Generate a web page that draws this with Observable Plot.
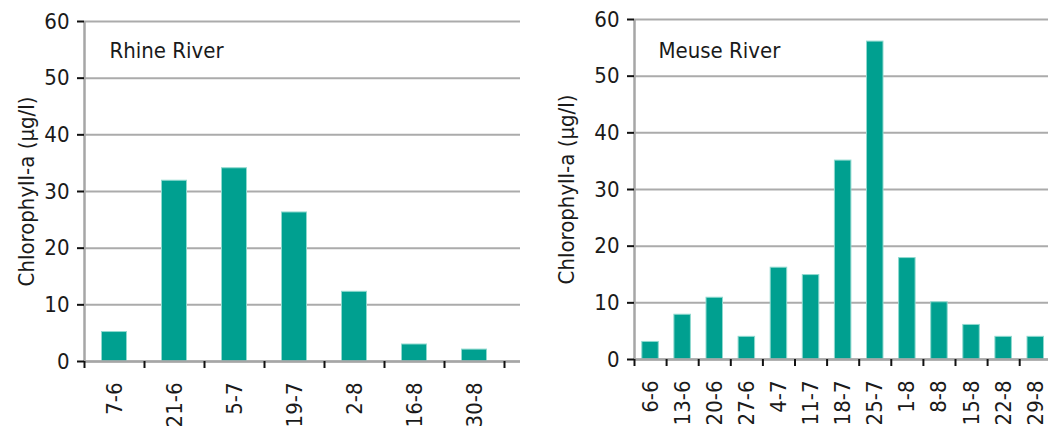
<!DOCTYPE html>
<html>
<head>
<meta charset="utf-8">
<script src="https://cdn.jsdelivr.net/npm/d3@7"></script>
<script src="https://cdn.jsdelivr.net/npm/@observablehq/plot@0.6"></script>
<style>
  html, body { margin: 0; padding: 0; background: #fff; overflow: hidden; }
  #wrap { display: flex; width: 1048px; height: 427px; }
  #wrap svg { display: block; }
</style>
</head>
<body>
<div id="wrap"></div>
<script>
// ---- data ----
const rhineLabel = "Rhine River";
const rhineDates = ["7-6", "21-6", "5-7", "19-7", "2-8", "16-8", "30-8"];
const rhineValues = [5.2, 31.9, 34.1, 26.3, 12.3, 3.0, 2.1];

const meuseLabel = "Meuse River";
const meuseDates = ["6-6", "13-6", "20-6", "27-6", "4-7", "11-7", "18-7", "25-7", "1-8", "8-8", "15-8", "22-8", "29-8"];
const meuseValues = [3.1, 7.9, 10.9, 4.0, 16.2, 14.9, 35.1, 56.1, 17.9, 10.1, 6.1, 4.0, 4.0];

const yTicks = [0, 10, 20, 30, 40, 50, 60];
const yTitle = "Chlorophyll-a (µg/l)";

// ---- chart ----
const FONT = '"Liberation Sans Narrow", "DejaVu Sans Condensed", "Arial Narrow", sans-serif';

function chart({label, dates, values, width, marginLeft, marginTop, marginBottom, bandWidth, inset, labelOffset, labelDx, labelDy}) {
  const n = dates.length;
  const data = dates.map((d, i) => ({date: d, i, value: values[i]}));
  return Plot.plot({
    width,
    height: 427,
    marginLeft,
    marginRight: 0,
    marginTop,
    marginBottom,
    style: {fontFamily: FONT, fontSize: "22px", color: "#1a1a1a", background: "white", overflow: "hidden"},
    x: {type: "linear", domain: [0, n], range: [marginLeft, marginLeft + n * bandWidth], axis: null},
    y: {domain: [0, 60], axis: null},
    marks: [
      Plot.gridY(yTicks, {stroke: "#ababab", strokeOpacity: 1, strokeWidth: 2}),
      Plot.rectY(data, {x1: "i", x2: d => d.i + 1, y1: 0, y2: "value", fill: "#00a090", stroke: "#8fd9cf", strokeWidth: 1, insetLeft: inset, insetRight: inset}),
      Plot.ruleX([0], {stroke: "#a6a6a6", strokeWidth: 2.5}),
      Plot.ruleY([0], {stroke: "#a6a6a6", strokeWidth: 2.5}),
      Plot.axisY({ticks: yTicks, tickSize: 7, tickPadding: 8, stroke: "#111", strokeWidth: 2,
                  label: yTitle, labelAnchor: "center", labelArrow: "none", labelOffset}),
      Plot.axisX({ticks: d3.range(n + 1), tickSize: 7, tickFormat: () => "", stroke: "#111", strokeWidth: 2, label: null}),
      Plot.axisX({ticks: d3.range(n).map(i => i + 0.5), tickSize: 0, tickPadding: 21, tickRotate: -90,
                  tickFormat: v => dates[Math.floor(v)], label: null}),
      Plot.text([label], {frameAnchor: "top-left", textAnchor: "start", lineAnchor: "top", dx: labelDx, dy: labelDy, fill: "#1a1a1a"})
    ]
  });
}

const wrap = document.getElementById("wrap");
wrap.appendChild(chart({
  label: rhineLabel, dates: rhineDates, values: rhineValues,
  width: 520, marginLeft: 84, marginTop: 21, marginBottom: 66,
  bandWidth: 60, inset: 17.5, labelOffset: 66, labelDx: 25, labelDy: 21
}));
wrap.appendChild(chart({
  label: meuseLabel, dates: meuseDates, values: meuseValues,
  width: 528, marginLeft: 114, marginTop: 19, marginBottom: 68,
  bandWidth: 32.1, inset: 7.8, labelOffset: 76, labelDx: 24, labelDy: 23
}));
</script>
</body>
</html>
